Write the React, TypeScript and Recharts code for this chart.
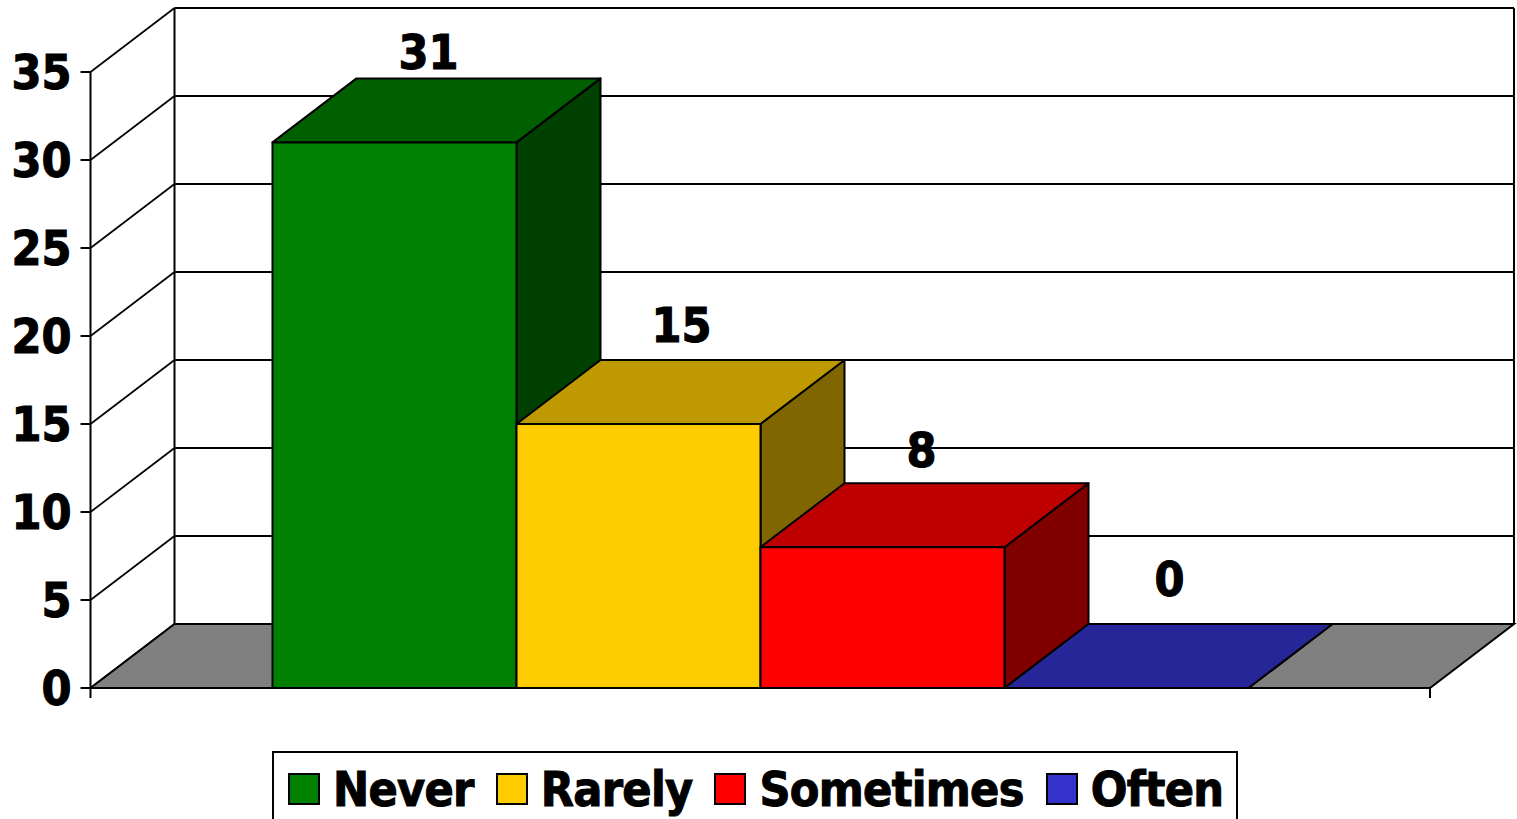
import { BarChart, Bar, XAxis, YAxis, Legend, LabelList, CartesianGrid, usePlotArea } from "recharts"

const categories = ["Never", "Rarely", "Sometimes", "Often"]
const values = [31, 15, 8, 0]
const colors = ["#008000", "#FFCC00", "#FF0000", "#3333CC"]
const yTicks = [0, 5, 10, 15, 20, 25, 30, 35]

const row: Record<string, any> = { name: "Responses" }
categories.forEach((c, i) => {
  row[c] = values[i]
})
const chartData = [row]

// depth of the fake 3D box
const DX = 84
const DY = -64
const FONT = "'DejaVu Sans Condensed', 'DejaVu Sans', sans-serif"
const LABEL_NUDGE: Record<string, [number, number]> = {
  Never: [34, -91],
  Rarely: [43, -99],
  Sometimes: [39, -97],
  Often: [43, -109],
}

function shade(hex: string, k: number) {
  const n = parseInt(hex.slice(1), 16)
  const part = (v: number) => Math.round(v * k)
  return `rgb(${part((n >> 16) & 255)},${part((n >> 8) & 255)},${part(n & 255)})`
}

function Floor() {
  const plot = usePlotArea()
  if (!plot) return null
  const { x, y, width, height } = plot
  const b = y + height
  const r = x + width
  return (
    <g>
      <polygon
        points={`${x},${b} ${x + DX},${b + DY} ${r + DX},${b + DY} ${r},${b}`}
        fill="#808080"
        stroke="#000"
        strokeWidth={2}
      />
      <line x1={x + DX} y1={b + DY} x2={x + DX} y2={y + DY} stroke="#000" strokeWidth={2} />
      <line x1={r + DX} y1={b + DY} x2={r + DX} y2={y + DY} stroke="#000" strokeWidth={2} />
      <line x1={x} y1={b} x2={x} y2={b + 10} stroke="#000" strokeWidth={2} />
      <line x1={r} y1={b} x2={r} y2={b + 10} stroke="#000" strokeWidth={2} />
    </g>
  )
}

// one grid value: diagonal up the side wall, then across the back wall
function WallLine(props: any) {
  const { x1, x2, y1 } = props
  return (
    <g>
      <line x1={x1} y1={y1} x2={x1 + DX} y2={y1 + DY} stroke="#000" strokeWidth={1.75} />
      <line x1={x1 + DX} y1={y1 + DY} x2={x2 + DX} y2={y1 + DY} stroke="#000" strokeWidth={2} />
    </g>
  )
}

function AxisTick(props: any) {
  const { x, y, payload } = props
  return (
    <text
      x={x}
      y={y}
      dy="0.36em"
      textAnchor="end"
      fontFamily={FONT}
      fontWeight="bold"
      fontSize={48}
      fill="#000"
      stroke="#000"
      strokeWidth={1}
    >
      {payload.value}
    </text>
  )
}

function Box3D(props: any) {
  const { x, y, width, height, fill } = props
  const r = x + width
  const b = y + height
  return (
    <g stroke="#000" strokeWidth={2} strokeLinejoin="round">
      <polygon
        points={`${r},${y} ${r + DX},${y + DY} ${r + DX},${b + DY} ${r},${b}`}
        fill={shade(fill, 0.5)}
      />
      <polygon
        points={`${x},${y} ${x + DX},${y + DY} ${r + DX},${y + DY} ${r},${y}`}
        fill={shade(fill, 0.75)}
      />
      <rect x={x} y={y} width={width} height={height} fill={fill} />
    </g>
  )
}

function valueLabel(name: string) {
  return (props: any) => {
    const { x, y, width, value } = props
    const [nx, ny] = LABEL_NUDGE[name]
    return (
      <text
        x={x + width / 2 + nx}
        y={y + ny}
        dy="0.36em"
        textAnchor="middle"
        fontFamily={FONT}
        fontWeight="bold"
        fontSize={48}
        fill="#000"
        stroke="#000"
        strokeWidth={1}
      >
        {value}
      </text>
    )
  }
}

function LegendBox({ payload }: any) {
  return (
    <div
      style={{
        boxSizing: "border-box",
        width: 966,
        height: 100,
        border: "2px solid #000",
        background: "#fff",
        paddingLeft: 14,
        paddingTop: 12,
        display: "flex",
        alignItems: "flex-start",
        fontFamily: FONT,
        fontWeight: "bold",
        fontSize: 48,
        lineHeight: "48px",
        letterSpacing: "-0.7px",
        WebkitTextStroke: "1px #000",
        color: "#000",
      }}
    >
      {(payload ?? []).map((entry: any) => (
        <div key={entry.value} style={{ display: "flex", alignItems: "center", marginRight: 22 }}>
          <span
            style={{
              boxSizing: "border-box",
              display: "inline-block",
              width: 32,
              height: 32,
              background: entry.color,
              border: "2px solid #000",
              marginRight: 13,
            }}
          />
          <span>{entry.value}</span>
        </div>
      ))}
    </div>
  )
}

export default function App() {
  return (
    <div
      style={{
        position: "absolute",
        left: 0,
        top: 0,
        width: 1517,
        height: 819,
        overflow: "hidden",
        background: "#fff",
      }}
    >
      <BarChart
        width={1517}
        height={819}
        data={chartData}
        margin={{ top: 72, right: 87, bottom: 0, left: 0 }}
        barGap={0}
        barSize={244}
      >
        <Floor />
        <CartesianGrid vertical={false} horizontalValues={yTicks} horizontal={(p: any) => <WallLine key={p.key} {...p} />} />
        <XAxis dataKey="name" height={131} tick={false} tickLine={false} axisLine={{ stroke: "#000", strokeWidth: 2 }} />
        <YAxis
          width={90.5}
          domain={[0, 35]}
          ticks={yTicks}
          interval={0}
          tick={<AxisTick />}
          tickSize={10}
          tickMargin={9}
          tickLine={{ stroke: "#000", strokeWidth: 2 }}
          axisLine={{ stroke: "#000", strokeWidth: 2 }}
        />
        <Legend
          verticalAlign="middle"
          itemSorter={null}
          content={<LegendBox />}
          wrapperStyle={{ left: 272, top: 751, width: 966 }}
        />
        {categories.map((c, i) => (
          <Bar key={c} dataKey={c} fill={colors[i]} shape={<Box3D />} isAnimationActive={false}>
            <LabelList dataKey={c} content={valueLabel(c)} />
          </Bar>
        ))}
      </BarChart>
    </div>
  )
}
